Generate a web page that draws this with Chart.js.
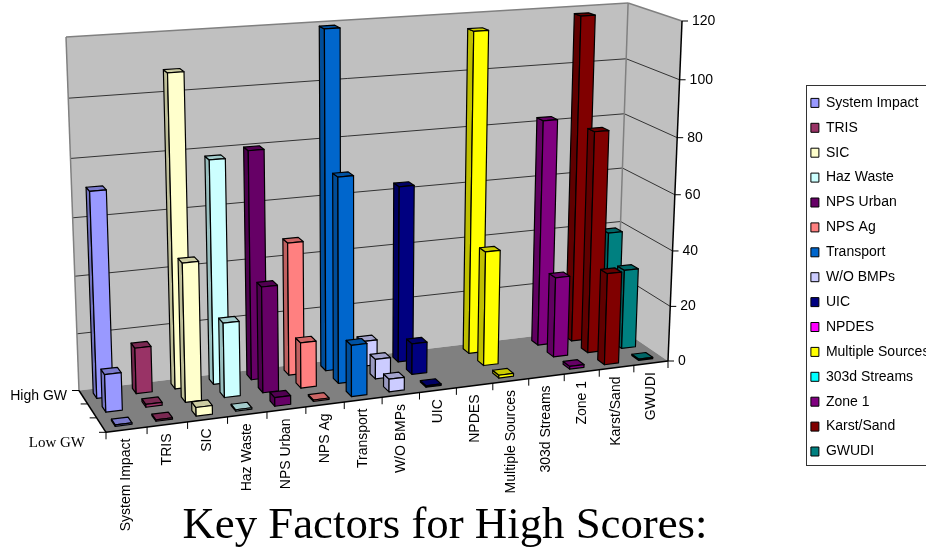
<!DOCTYPE html>
<html>
<head>
<meta charset="utf-8">
<style>
html, body { margin: 0; padding: 0; background: #fff; overflow: hidden; }
canvas { display: block; }
</style>
<script src="https://cdn.jsdelivr.net/npm/chart.js@4/dist/chart.umd.min.js"></script>
</head>
<body>
<canvas id="chart" width="926" height="552"></canvas>
<script>
const categories = ['System Impact', 'TRIS', 'SIC', 'Haz Waste', 'NPS Urban', 'NPS Ag', 'Transport', 'W/O BMPs',
  'UIC', 'NPDES', 'Multiple Sources', '303d Streams', 'Zone 1', 'Karst/Sand', 'GWUDI'];
const colors = ['#9999FF', '#993366', '#FFFFCC', '#CCFFFF', '#660066', '#FF8080', '#0066CC', '#CCCCFF',
  '#000080', '#FF00FF', '#FFFF00', '#00FFFF', '#800080', '#800000', '#008080'];

// blank cells (NPDES, 303d) have no bar at all
const lowGW = [0.5, 0.5, 3, 0.5, 3, 0.5, 18, 4.5, 0.5, null, 1, null, 1, 33, 0.5];
const midGW = [13, 1, 48, 26, 37, 16, 72, 7, 11, null, 41, null, 29, 80, 29];
const highGW = [71, 16, 108, 78, 80, 47, 119, 9, 63, null, 115, null, 82, 118, 39];
const depthLabels = ['Low GW', '', 'High GW'];

// box corners on the page, the rest comes from the projection
const floorFL = [106, 432.3], floorFR = [668, 361], floorBR = [617, 326.3], floorBL = [79, 390.5];
const topFRy = 21, topBRy = 3, topBLy = 37;
const vanish = [356, 7926]; // where the verticals meet

const dx1 = floorFR[0] - floorBR[0], dx2 = floorBL[0] - floorBR[0];
const dy1 = floorFR[1] - floorBR[1], dy2 = floorBL[1] - floorBR[1];
const sx = floorFL[0] - floorFR[0] + floorBR[0] - floorBL[0];
const sy = floorFL[1] - floorFR[1] + floorBR[1] - floorBL[1];
const den = dx1 * dy2 - dx2 * dy1;
const pg = (sx * dy2 - dx2 * sy) / den;
const ph = (dx1 * sy - sx * dy1) / den;
const pa = floorFR[0] - floorFL[0] + pg * floorFR[0];
const pb = floorBL[0] - floorFL[0] + ph * floorBL[0];
const pd = floorFR[1] - floorFL[1] + pg * floorFR[1];
const pe = floorBL[1] - floorFL[1] + ph * floorBL[1];

// height factor at a floor corner, from where that corner's vertical ends
function heightK(base, topY) {
  const q = (topY - base[1]) / (vanish[1] - base[1]);
  return q / (1 - q);
}
const kFR = heightK(floorFR, topFRy), kBR = heightK(floorBR, topBRy), kBL = heightK(floorBL, topBLy);
const kFL = kBL + kFR - kBR;

function project(u, v, h) {
  const w = pg * u + ph * v + 1;
  const bx = (pa * u + pb * v + floorFL[0]) / w, by = (pd * u + pe * v + floorFL[1]) / w;
  const k = h * (kFL + (kFR - kFL) * u + (kBL - kFL) * v);
  const q = k / (1 + k);
  return [bx + (vanish[0] - bx) * q, by + (vanish[1] - by) * q];
}

function shade(hex, f) {
  const n = parseInt(hex.slice(1), 16);
  return 'rgb(' + Math.round((n >> 16) * f) + ',' + Math.round(((n >> 8) & 255) * f) + ',' + Math.round((n & 255) * f) + ')';
}

function poly(ctx, pts, fill, stroke, lw) {
  ctx.beginPath();
  pts.forEach((p, i) => i ? ctx.lineTo(p[0], p[1]) : ctx.moveTo(p[0], p[1]));
  ctx.closePath();
  if (fill) { ctx.fillStyle = fill; ctx.fill(); }
  if (stroke) { ctx.strokeStyle = stroke; ctx.lineWidth = lw; ctx.lineJoin = 'round'; ctx.stroke(); }
}

function line(ctx, a, b, color, lw) {
  ctx.beginPath();
  ctx.moveTo(a[0], a[1]);
  ctx.lineTo(b[0], b[1]);
  ctx.strokeStyle = color;
  ctx.lineWidth = lw;
  ctx.stroke();
}

// bar chart whose elements are drawn as boxes on the projected floor
class Bar3d extends Chart.BarController {
  draw() {
    const ctx = this.chart.ctx;
    const x = this._cachedMeta.xScale, y = this._cachedMeta.yScale;
    const row = this.index;
    const v0 = (row + 0.5 - 0.2) / depthLabels.length, v1 = (row + 0.5 + 0.2) / depthLabels.length;
    this._cachedMeta.data.forEach((el, i) => {
      if (this.getDataset().data[i] == null) return;
      const u0 = (el.x - el.width / 2 - x.left) / x.width;
      const u1 = (el.x + el.width / 2 - x.left) / x.width;
      const h = (y.bottom - el.y) / y.height;
      const c = colors[i];
      poly(ctx, [project(u0, v1, 0), project(u0, v0, 0), project(u0, v0, h), project(u0, v1, h)], shade(c, 0.75), '#000', 1.2);
      poly(ctx, [project(u0, v0, h), project(u1, v0, h), project(u1, v1, h), project(u0, v1, h)], shade(c, 0.8), '#000', 1.2);
      poly(ctx, [project(u0, v0, 0), project(u1, v0, 0), project(u1, v0, h), project(u0, v0, h)], c, '#000', 1.2);
    });
  }
}
Bar3d.id = 'bar3d';
Bar3d.defaults = Chart.BarController.defaults;
Bar3d.overrides = Chart.BarController.overrides;
Chart.register(Bar3d);

const boxPlugin = {
  id: 'box',
  afterLayout(chart) {
    // legend sits clipped against the right edge, title is left of centre
    const lg = chart.legend;
    lg.left = 800; lg.right = 940; lg.top = 85; lg.bottom = 540;
    chart.titleBlock.left -= 18;
    chart.titleBlock.right -= 18;
    chart.titleBlock.top += 3;
    chart.titleBlock.bottom += 3;
  },
  beforeDatasetsDraw(chart) {
    const ctx = chart.ctx, x = chart.scales.x, y = chart.scales.y;
    const wall = '#808080';
    poly(ctx, [project(1, 0, 0), project(1, 1, 0), project(1, 1, 1), project(1, 0, 1)], '#C0C0C0');
    poly(ctx, [project(0, 1, 0), project(1, 1, 0), project(1, 1, 1), project(0, 1, 1)], '#C0C0C0');
    y.ticks.forEach(t => {
      const h = (y.bottom - y.getPixelForValue(t.value)) / y.height;
      if (h > 0 && h < 1) {
        line(ctx, project(0, 1, h), project(1, 1, h), '#333', 1);
        line(ctx, project(1, 1, h), project(1, 0, h), '#333', 1);
      }
    });
    line(ctx, project(0, 1, 0), project(0, 1, 1), wall, 1.5);
    line(ctx, project(0, 1, 1), project(1, 1, 1), wall, 1.5);
    line(ctx, project(1, 1, 0), project(1, 1, 1), wall, 1.5);
    line(ctx, project(1, 1, 1), project(1, 0, 1), wall, 1.5);
    poly(ctx, [project(0, 0, 0), project(1, 0, 0), project(1, 1, 0), project(0, 1, 0)], '#808080');

    // front edge, left edge and value axis
    line(ctx, project(0, 0, 0), project(1, 0, 0), '#000', 1.5);
    line(ctx, project(0, 0, 0), project(0, 1, 0), '#000', 1.5);
    line(ctx, project(1, 0, 0), project(1, 0, 1), '#000', 1.5);

    ctx.fillStyle = '#000';
    ctx.font = '14px "Liberation Sans"';
    ctx.textBaseline = 'middle';
    ctx.textAlign = 'left';
    y.ticks.forEach(t => {
      const h = (y.bottom - y.getPixelForValue(t.value)) / y.height;
      const p = project(1, 0, h);
      line(ctx, p, [p[0] + 6, p[1]], '#000', 1);
      ctx.fillStyle = '#000';
      ctx.fillText(t.label, p[0] + 10, p[1]);
    });

    categories.forEach((c, i) => {
      const t = project(i / categories.length, 0, 0);
      line(ctx, t, [t[0], t[1] + 7], '#000', 1);
      const u = (x.getPixelForValue(i) - x.left) / x.width;
      const p = project(u, 0, 0);
      ctx.save();
      ctx.translate(p[0], p[1] + 9);
      ctx.rotate(-Math.PI / 2);
      ctx.textAlign = 'right';
      ctx.fillStyle = '#000';
      ctx.fillText(c, 0, 0);
      ctx.restore();
    });
    const lastTick = project(1, 0, 0);
    line(ctx, lastTick, [lastTick[0], lastTick[1] + 7], '#000', 1);

    for (let r = 0; r <= depthLabels.length; r++) {
      const t = project(0, r / depthLabels.length, 0);
      line(ctx, t, [t[0] - 7, t[1]], '#000', 1);
    }
    ctx.textAlign = 'right';
    ctx.fillStyle = '#000';
    ctx.font = '14px "Liberation Sans"';
    ctx.fillText(depthLabels[2], 67, 396);
    ctx.font = '15px "Liberation Serif"';
    ctx.fillText(depthLabels[0], 85, 443);
  },
  afterDraw(chart) {
    const ctx = chart.ctx;
    ctx.strokeStyle = '#333';
    ctx.lineWidth = 1;
    ctx.strokeRect(806.5, 85.5, 140, 380);
  }
};

new Chart(document.getElementById('chart'), {
  type: 'bar3d',
  data: {
    labels: categories,
    datasets: [
      { label: depthLabels[0], data: lowGW, backgroundColor: colors },
      { label: depthLabels[1], data: midGW, backgroundColor: colors },
      { label: depthLabels[2], data: highGW, backgroundColor: colors }
    ]
  },
  options: {
    responsive: false,
    animation: false,
    events: [],
    grouped: false,
    barPercentage: 1,
    categoryPercentage: 0.41,
    scales: {
      x: { display: false, type: 'category', offset: true },
      y: { display: false, type: 'linear', min: 0, max: 120, ticks: { stepSize: 20 } }
    },
    plugins: {
      tooltip: { enabled: false },
      title: {
        display: true,
        position: 'bottom',
        text: 'Key Factors for High Scores:',
        color: '#000',
        font: { family: '"Liberation Serif"', size: 44.8, weight: 'normal' },
        padding: { top: 0, bottom: 2 }
      },
      legend: {
        position: 'right',
        align: 'start',
        labels: {
          color: '#000',
          boxWidth: 8,
          boxHeight: 9,
          padding: 10.9,
          font: { family: '"Liberation Sans"', size: 14 },
          generateLabels: () => categories.map((c, i) => ({
            text: c, fillStyle: colors[i], strokeStyle: '#000', lineWidth: 1, hidden: false, index: i
          }))
        }
      }
    }
  },
  plugins: [boxPlugin]
});
</script>
</body>
</html>
